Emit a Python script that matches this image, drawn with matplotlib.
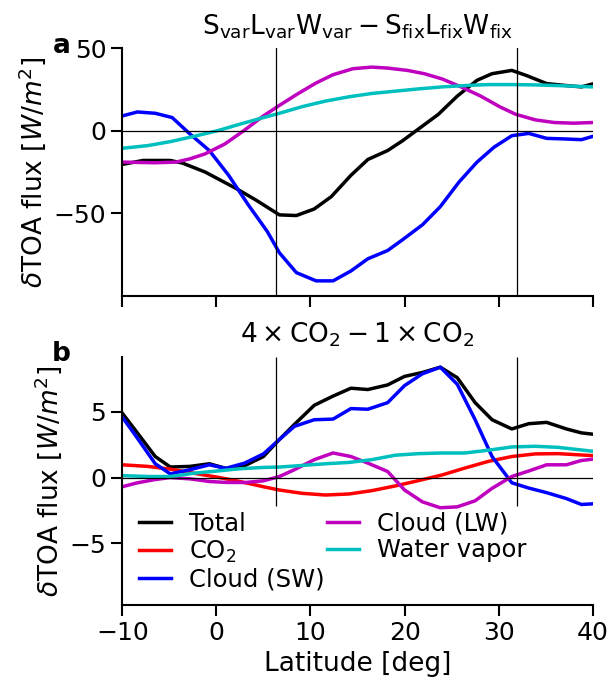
import matplotlib
matplotlib.use("Agg")
import matplotlib.pyplot as plt

plt.rcParams['font.family'] = ['DejaVu Sans']
plt.rcParams['mathtext.fontset'] = 'dejavusans'

# panel a: Svar Lvar Wvar - Sfix Lfix Wfix
lat_a_total = [-10, -7.8, -4.9, -3.6, -1.2, 2.1, 4.2, 6.7, 8.5, 10.4, 12.2, 14.3, 16.1, 18.2, 19.8, 21.7, 23.6, 25.6, 27.7, 29.3, 31.4, 33.0, 35.1, 37.2, 38.8, 40]
a_total = [-20.4, -18, -18, -19.6, -25, -35, -42, -51, -51.4, -47.4, -40, -27, -17.4, -12, -6, 2, 10, 21, 30.6, 34.6, 36.6, 33.4, 28.6, 27.4, 26.6, 28.4]

lat_a_sw = [-10, -8.4, -6.5, -4.7, -2.8, -0.75, 1.3, 3.4, 5.4, 6.7, 8.5, 10.6, 12.4, 14.3, 16.1, 18.2, 19.8, 21.9, 23.8, 25.8, 27.7, 29.5, 31.4, 33.2, 35.1, 37.2, 38.8, 40]
a_sw = [9, 11.4, 10.6, 8, -2, -12, -27, -45, -61, -74, -86, -91, -91, -85, -77.6, -72.6, -66, -57, -46, -31, -19, -10, -3, -1.6, -4.6, -5, -5.4, -3.4]

lat_a_lw = [-10, -6.5, -4.3, -2.8, -1.2, 0.9, 2.9, 5.0, 6.7, 8.7, 10.6, 12.4, 14.5, 16.5, 18.2, 20.3, 22.1, 24.0, 26.0, 28.1, 30.1, 31.8, 33.9, 35.9, 38.0, 40]
a_lw = [-19, -19.4, -19, -17, -14, -8, 0, 9, 15.4, 22.6, 29, 34, 37.6, 38.6, 38, 36.6, 34.6, 31.4, 26.6, 21, 14.6, 10, 6.6, 5, 4.6, 5]

lat_a_wv = [-10, -7.3, -4.9, -2.4, 0.1, 2.5, 5.0, 6.7, 9.1, 11.6, 14.1, 16.5, 19.0, 21.5, 24.0, 26.4, 28.9, 31.4, 33.9, 36.3, 40]
a_wv = [-10.6, -9, -6.6, -3.4, 0, 4, 8, 10.6, 14.6, 18, 20.6, 22.6, 24, 25.4, 26.6, 27.4, 28, 28, 27.8, 27.4, 26.6]

# panel b: 4xCO2 - 1xCO2
lat_b = [-10, -8.4, -6.5, -4.9, -2.8, -0.75, 1.0, 3.0, 5.0, 6.7, 8.3, 10.4, 12.4, 14.3, 16.1, 18.2, 20.0, 21.9, 23.8, 25.6, 27.5, 29.3, 31.4, 33.2, 35.1, 37.2, 38.8, 40]
b_total = [4.9, 3.4, 1.6, 0.8, 0.85, 1.05, 0.7, 0.9, 1.6, 2.9, 4.05, 5.5, 6.2, 6.8, 6.7, 7.05, 7.7, 8.0, 8.4, 7.6, 5.7, 4.4, 3.7, 4.1, 4.2, 3.7, 3.4, 3.3]
b_sw = [4.6, 3.0, 1.05, 0.28, 0.6, 0.97, 0.7, 1.1, 1.8, 2.9, 3.9, 4.4, 4.45, 5.25, 5.2, 5.7, 7.0, 7.9, 8.4, 7.1, 4.4, 1.6, -0.4, -0.8, -1.15, -1.6, -2.05, -2.0]
b_lw = [-0.7, -0.4, -0.15, 0.0, -0.1, -0.3, -0.37, -0.38, -0.25, 0.08, 0.6, 1.36, 1.87, 1.6, 1.1, 0.46, -0.95, -1.85, -2.3, -2.23, -1.77, -0.82, 0.08, 0.5, 0.97, 0.97, 1.3, 1.4]

lat_b2 = [-10, -7.3, -4.9, -2.4, 0.1, 2.5, 5.0, 6.7, 9.1, 11.6, 14.1, 16.5, 19.0, 21.5, 24.0, 26.4, 28.9, 31.4, 33.9, 36.3, 40]
b_co2 = [0.97, 0.85, 0.64, 0.33, 0.03, -0.3, -0.7, -0.95, -1.2, -1.33, -1.25, -1.0, -0.64, -0.23, 0.2, 0.72, 1.23, 1.6, 1.8, 1.82, 1.67]
b_wv = [0.15, 0.08, 0.08, 0.33, 0.5, 0.67, 0.77, 0.8, 0.92, 1.05, 1.15, 1.36, 1.7, 1.82, 1.87, 1.87, 2.08, 2.33, 2.38, 2.3, 2.0]

vlines = [6.3, 32.0]
LW = 2.5
FS = 19

fig = plt.figure(figsize=(6.07, 6.85), dpi=100)
ax1 = fig.add_axes([0.2015, 0.5683, 0.775, 0.3612])
ax2 = fig.add_axes([0.2015, 0.1168, 0.775, 0.3625])

ax1.plot(lat_a_total, a_total, 'k-', lw=LW)
ax1.plot(lat_a_sw, a_sw, 'b-', lw=LW)
ax1.plot(lat_a_lw, a_lw, 'm-', lw=LW)
ax1.plot(lat_a_wv, a_wv, 'c-', lw=LW)
ax1.set_ylim(-100, 50)
ax1.set_yticks([-50, 0, 50])
ax1.set_title(r'$\mathrm{S_{var}L_{var}W_{var} - S_{fix}L_{fix}W_{fix}}$', fontsize=FS, pad=10)
for v in vlines:
    ax1.axvline(v, color='k', lw=0.9)

ax2.plot(lat_b, b_total, 'k-', lw=LW, label='Total')
ax2.plot(lat_b2, b_co2, 'r-', lw=LW, label=r'CO$_2$')
ax2.plot(lat_b, b_sw, 'b-', lw=LW, label='Cloud (SW)')
ax2.plot(lat_b, b_lw, 'm-', lw=LW, label='Cloud (LW)')
ax2.plot(lat_b2, b_wv, 'c-', lw=LW, label='Water vapor')
ax2.set_ylim(-9.7, 9.2)
ax2.set_yticks([-5, 0, 5])
ax2.vlines(vlines, -2.2, 9.2, color='k', lw=0.9)
ax2.set_title(r'$4 \times \mathrm{CO_2} - 1 \times \mathrm{CO_2}$', fontsize=FS, pad=10)
ax2.set_xlabel('Latitude [deg]', fontsize=FS)
ax2.legend(loc='lower left', ncol=2, frameon=False, fontsize=17.5, handlelength=1.3,
           labelspacing=0.12, columnspacing=0.1, handletextpad=0.75,
           borderaxespad=0.0, bbox_to_anchor=(0.015, 0.015))

for ax, lab in [(ax1, 'a'), (ax2, 'b')]:
    ax.axhline(0, color='k', lw=0.9)
    ax.set_xlim(-10, 40)
    ax.set_xticks([-10, 0, 10, 20, 30, 40])
    ax.spines['top'].set_visible(False)
    ax.spines['right'].set_visible(False)
    ax.spines['left'].set_linewidth(1.5)
    ax.spines['bottom'].set_linewidth(1.5)
    ax.tick_params(labelsize=18, width=1.5, length=8)
    ax.set_ylabel(r'$\delta$TOA flux [$W/m^2$]', fontsize=FS)
    ax.text(-0.11, 1.01, lab, transform=ax.transAxes, fontsize=FS, fontweight='bold',
            ha='right', va='center')

ax1.tick_params(labelbottom=False)

fig.savefig('out.png', dpi=100)
